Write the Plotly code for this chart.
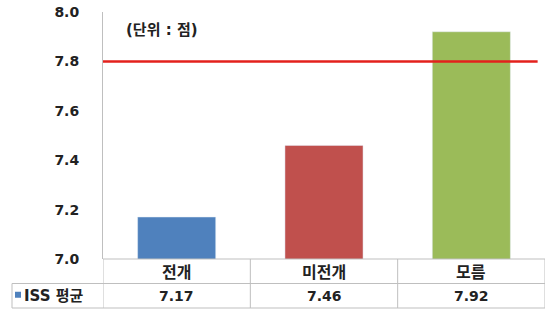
import plotly.graph_objects as go

categories = ["전개", "미전개", "모름"]
values = [7.17, 7.46, 7.92]
bar_colors = ["#4F81BD", "#C0504D", "#9BBB59"]
series_name = "ISS 평균"
reference_value = 7.8
tick_values = [7.0, 7.2, 7.4, 7.6, 7.8, 8.0]
tick_labels = ["7.0", "7.2", "7.4", "7.6", "7.8", "8.0"]
unit_note = "(단위 : 점)"

FONT = "DejaVu Sans, Noto Sans CJK KR, sans-serif"
KFONT = "Noto Sans CJK KR, DejaVu Sans, sans-serif"
GRID = "#BFBFBF"

fig = go.Figure()
fig.add_trace(go.Bar(
    x=categories, y=values, marker_color=bar_colors, width=0.53,
    name=series_name, showlegend=False,
))

W, H = 557, 323
ml, mr, mt, mb = 103, 12, 12, 64
plot_h = H - mt - mb
plot_w = W - ml - mr
row = 24.5 / plot_h  # table row height in paper units
legend_left = -(ml - 12) / plot_w

shapes = []
# red reference line
shapes.append(dict(type="line", xref="x", yref="y", x0=-0.5, x1=2.45,
                   y0=reference_value, y1=reference_value,
                   line=dict(color="#E3211C", width=2.5), layer="above"))
# table horizontal lines
shapes.append(dict(type="line", xref="paper", yref="paper", x0=0, x1=1, y0=0, y1=0,
                   line=dict(color=GRID, width=1)))
for yy in [-row, -2 * row]:
    shapes.append(dict(type="line", xref="paper", yref="paper", x0=legend_left, x1=1,
                       y0=yy, y1=yy, line=dict(color=GRID, width=1)))
# table vertical lines
for i in range(len(categories) + 1):
    shapes.append(dict(type="line", xref="x", yref="paper", x0=i - 0.5, x1=i - 0.5,
                       y0=0, y1=-2 * row, line=dict(color=GRID, width=1)))
shapes.append(dict(type="line", xref="paper", yref="paper", x0=legend_left, x1=legend_left,
                   y0=-row, y1=-2 * row, line=dict(color=GRID, width=1)))
# legend key
key_w = 6 / plot_w
key_h = 6 / plot_h
kx = legend_left + 3 / plot_w
ky = -1.5 * row + 1 / plot_h
shapes.append(dict(type="rect", xref="paper", yref="paper", x0=kx, x1=kx + key_w,
                   y0=ky - key_h / 2, y1=ky + key_h / 2,
                   fillcolor=bar_colors[0], line=dict(width=0)))

NF = dict(size=14, color="#222", family=FONT)
KF = dict(size=16, color="#222", family=KFONT)
annotations = []
for c, v in zip(categories, values):
    annotations.append(dict(x=c, xref="x", y=-0.5 * row, yref="paper", text=f"<b>{c}</b>",
                            xanchor="center", yanchor="middle", showarrow=False, font=KF))
    annotations.append(dict(x=c, xref="x", y=-1.5 * row, yref="paper", text=f"<b>{v:.2f}</b>",
                            xanchor="center", yanchor="middle", showarrow=False, font=NF))
annotations.append(dict(x=kx + key_w + 1 / plot_w, xref="paper", y=-1.5 * row, yref="paper",
                        text=f"<b>{series_name}</b>", xanchor="left", yanchor="middle",
                        showarrow=False, font=dict(size=15, color="#222", family=FONT)))
annotations.append(dict(x=21 / plot_w, xref="paper", y=(247 - 18) / plot_h, yref="paper",
                        text=f"<b>{unit_note}</b>", xanchor="left", yanchor="middle",
                        showarrow=False, font=dict(size=15, color="#222", family=FONT)))

fig.update_layout(
    width=W, height=H,
    margin=dict(l=ml, r=mr, t=mt, b=mb, autoexpand=False),
    paper_bgcolor="white", plot_bgcolor="white",
    shapes=shapes, annotations=annotations,
    xaxis=dict(range=[-0.5, 2.5], showticklabels=False, showline=False, showgrid=False,
               zeroline=False, ticks="", automargin=False),
    yaxis=dict(range=[7.0, 8.0], tickvals=tick_values,
               ticktext=[f"<b>{t}</b>" for t in tick_labels],
               showgrid=False, zeroline=False, showline=True, linecolor=GRID, linewidth=1,
               ticks="", ticklabelstandoff=20, automargin=False,
               tickfont=NF),
    font=dict(family=FONT),
)

fig.write_html("out.html")
